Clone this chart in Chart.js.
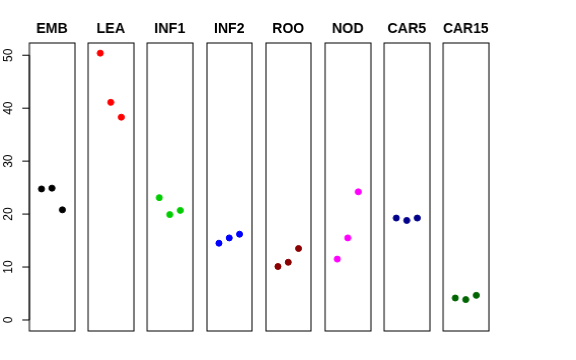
<!DOCTYPE html>
<html>
<head>
<meta charset="utf-8">
<script src="https://cdn.jsdelivr.net/npm/chart.js@4"></script>
<style>
  body { margin: 0; background: #fff; }
  #wrap { position: relative; width: 576px; height: 360px; }
  #wrap div { position: absolute; top: 0; height: 360px; }
</style>
</head>
<body>
<div id="wrap"></div>
<script>
// tissues (one panel each) and replicate measurements
var tissues = ['EMB', 'LEA', 'INF1', 'INF2', 'ROO', 'NOD', 'CAR5', 'CAR15'];
var rep1 = [24.75, 50.4, 23.1, 14.5, 10.1, 11.5, 19.25, 4.15];
var rep2 = [24.9, 41.1, 19.9, 15.5, 10.9, 15.5, 18.8, 3.85];
var rep3 = [20.8, 38.3, 20.7, 16.2, 13.5, 24.2, 19.25, 4.65];
var replicate = [1, 2, 3];
var colors = ['#000000', '#ff0000', '#00cd00', '#0000ff', '#8b0000', '#ff00ff', '#00008b', '#006400'];
var yTicks = [0, 10, 20, 30, 40, 50];

var panelLeft = 29, panelStride = 59.2, panelWidth = 44.5;

// box round each panel, plus rotated y labels on the first one
var boxPlugin = {
    id: 'box',
    afterDraw: function(chart) {
        var a = chart.chartArea, ctx = chart.ctx;
        ctx.save();
        ctx.strokeStyle = '#000';
        ctx.lineWidth = 1;
        ctx.strokeRect(Math.round(a.left), Math.round(a.top), Math.round(a.right - a.left), Math.round(a.bottom - a.top));
        if (chart.options.plugins.box.axis) {
            var y = chart.scales.y;
            ctx.beginPath();
            ctx.moveTo(a.left, y.getPixelForValue(yTicks[0]));
            ctx.lineTo(a.left, y.getPixelForValue(yTicks[yTicks.length - 1]));
            ctx.stroke();
            ctx.fillStyle = '#000';
            ctx.font = '12px "Liberation Sans", Arial, sans-serif';
            ctx.textAlign = 'center';
            ctx.textBaseline = 'middle';
            yTicks.forEach(function(t) {
                var py = y.getPixelForValue(t);
                ctx.beginPath();
                ctx.moveTo(a.left, py);
                ctx.lineTo(a.left - 7, py);
                ctx.stroke();
                ctx.save();
                ctx.translate(8.5, py);
                ctx.rotate(-Math.PI / 2);
                ctx.fillText(String(t), 0, 0);
                ctx.restore();
            });
        }
        ctx.restore();
    }
};

tissues.forEach(function(name, i) {
    var first = i === 0;
    var left = panelLeft + panelStride * i;
    var div = document.createElement('div');
    var canvasLeft = first ? 0 : left - 4;
    var w = (left + panelWidth + 4) - canvasLeft;
    div.style.left = canvasLeft + 'px';
    div.style.width = w + 'px';
    var canvas = document.createElement('canvas');
    div.appendChild(canvas);
    document.getElementById('wrap').appendChild(div);

    new Chart(canvas.getContext('2d'), {
        type: 'scatter',
        data: {
            datasets: [{
                data: replicate.map(function(r, k) {
                    return { x: r, y: [rep1, rep2, rep3][k][i] };
                }),
                backgroundColor: colors[i],
                borderColor: colors[i],
                pointRadius: 3,
                pointHoverRadius: 3
            }]
        },
        options: {
            responsive: true,
            maintainAspectRatio: false,
            animation: false,
            events: [],
            layout: { padding: { left: first ? left : 4, right: 4, top: 0, bottom: 29 } },
            scales: {
                x: { type: 'linear', min: -0.16, max: 4.16, display: false },
                y: { type: 'linear', min: -2.08, max: 52.35, display: false }
            },
            plugins: {
                legend: { display: false },
                tooltip: { enabled: false },
                box: { axis: first },
                title: {
                    display: true,
                    text: name,
                    color: '#000',
                    font: { family: '"Liberation Sans", Arial, sans-serif', size: 14, weight: 'bold', lineHeight: 1.2 },
                    padding: { top: 21, bottom: 5 }
                }
            }
        },
        plugins: [boxPlugin]
    });
});
</script>
</body>
</html>
